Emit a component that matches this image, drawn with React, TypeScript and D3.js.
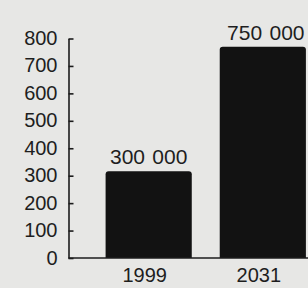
import React, { useEffect, useRef } from "react";
import * as d3 from "d3";

const years = ["1999", "2031"];
// bar heights in thousands, as drawn in the picture
const values = [316, 770];
const valueLabels = ["300 000", "750 000"];
const yTicks = [0, 100, 200, 300, 400, 500, 600, 700, 800];

const W = 308;
const H = 288;

const App = () => {
  const ref = useRef<SVGSVGElement | null>(null);

  useEffect(() => {
    document.body.style.margin = "0";
    if (!ref.current) return;
    const svg = d3.select(ref.current);
    svg.selectAll("*").remove();

    const axisX = 68.5;
    const baseY = 258;

    svg.append("rect").attr("width", W).attr("height", H).attr("fill", "#e7e7e5");

    const yScale = d3.scaleLinear().domain([0, 800]).range([baseY, 38.5]);
    const xScale = d3
      .scaleBand()
      .domain(years)
      .range([axisX, 343])
      .paddingInner(0.245)
      .paddingOuter(0.325);

    const font = "'Liberation Sans', Arial, sans-serif";

    // y axis
    svg
      .append("g")
      .attr("transform", `translate(${axisX},0)`)
      .call(
        d3
          .axisLeft(yScale)
          .tickValues(yTicks)
          .tickSizeInner(-5)
          .tickSizeOuter(0)
          .tickPadding(11)
      )
      .call((g) => {
        g.select(".domain").attr("stroke", "#1c1c1c").attr("stroke-width", 1.6);
        g.selectAll(".tick line").attr("stroke", "#1c1c1c").attr("stroke-width", 1.6);
        g.selectAll(".tick text")
          .attr("fill", "#1e1e1e")
          .attr("font-size", 20)
          .attr("font-family", font)
          .attr("dy", "0.3em");
      });

    // bars with rounded tops
    const r = 3;
    svg
      .append("g")
      .selectAll("path")
      .data(values)
      .enter()
      .append("path")
      .attr("d", (d, i) => {
        const x0 = xScale(years[i])!;
        const x1 = x0 + xScale.bandwidth();
        const y0 = yScale(d);
        return `M${x0},${baseY} V${y0 + r} Q${x0},${y0} ${x0 + r},${y0} H${x1 - r} Q${x1},${y0} ${x1},${y0 + r} V${baseY} Z`;
      })
      .attr("fill", "#121212");

    // baseline
    svg
      .append("line")
      .attr("x1", axisX)
      .attr("x2", W)
      .attr("y1", baseY)
      .attr("y2", baseY)
      .attr("stroke", "#1c1c1c")
      .attr("stroke-width", 1.6);

    // value labels
    svg
      .append("g")
      .selectAll("text")
      .data(valueLabels)
      .enter()
      .append("text")
      .attr("x", (d, i) => xScale(years[i])! + xScale.bandwidth() / 2 + (i === 1 ? 3 : 0))
      .attr("y", (d, i) => yScale(values[i]) - 7)
      .attr("text-anchor", "middle")
      .attr("font-size", 21)
      .attr("font-family", font)
      .attr("fill", "#1e1e1e")
      .attr("word-spacing", 1.5)
      .text((d) => d);

    // year labels
    svg
      .append("g")
      .selectAll("text")
      .data(years)
      .enter()
      .append("text")
      .attr("x", (d) => xScale(d)! + xScale.bandwidth() / 2 - 4)
      .attr("y", baseY + 24)
      .attr("text-anchor", "middle")
      .attr("font-size", 20)
      .attr("font-family", font)
      .attr("fill", "#1e1e1e")
      .text((d) => d);
  }, []);

  return (
    <div style={{ position: "absolute", left: 0, top: 0 }}>
      <svg ref={ref} width={W} height={H} style={{ display: "block" }}></svg>
    </div>
  );
};

export default App;
